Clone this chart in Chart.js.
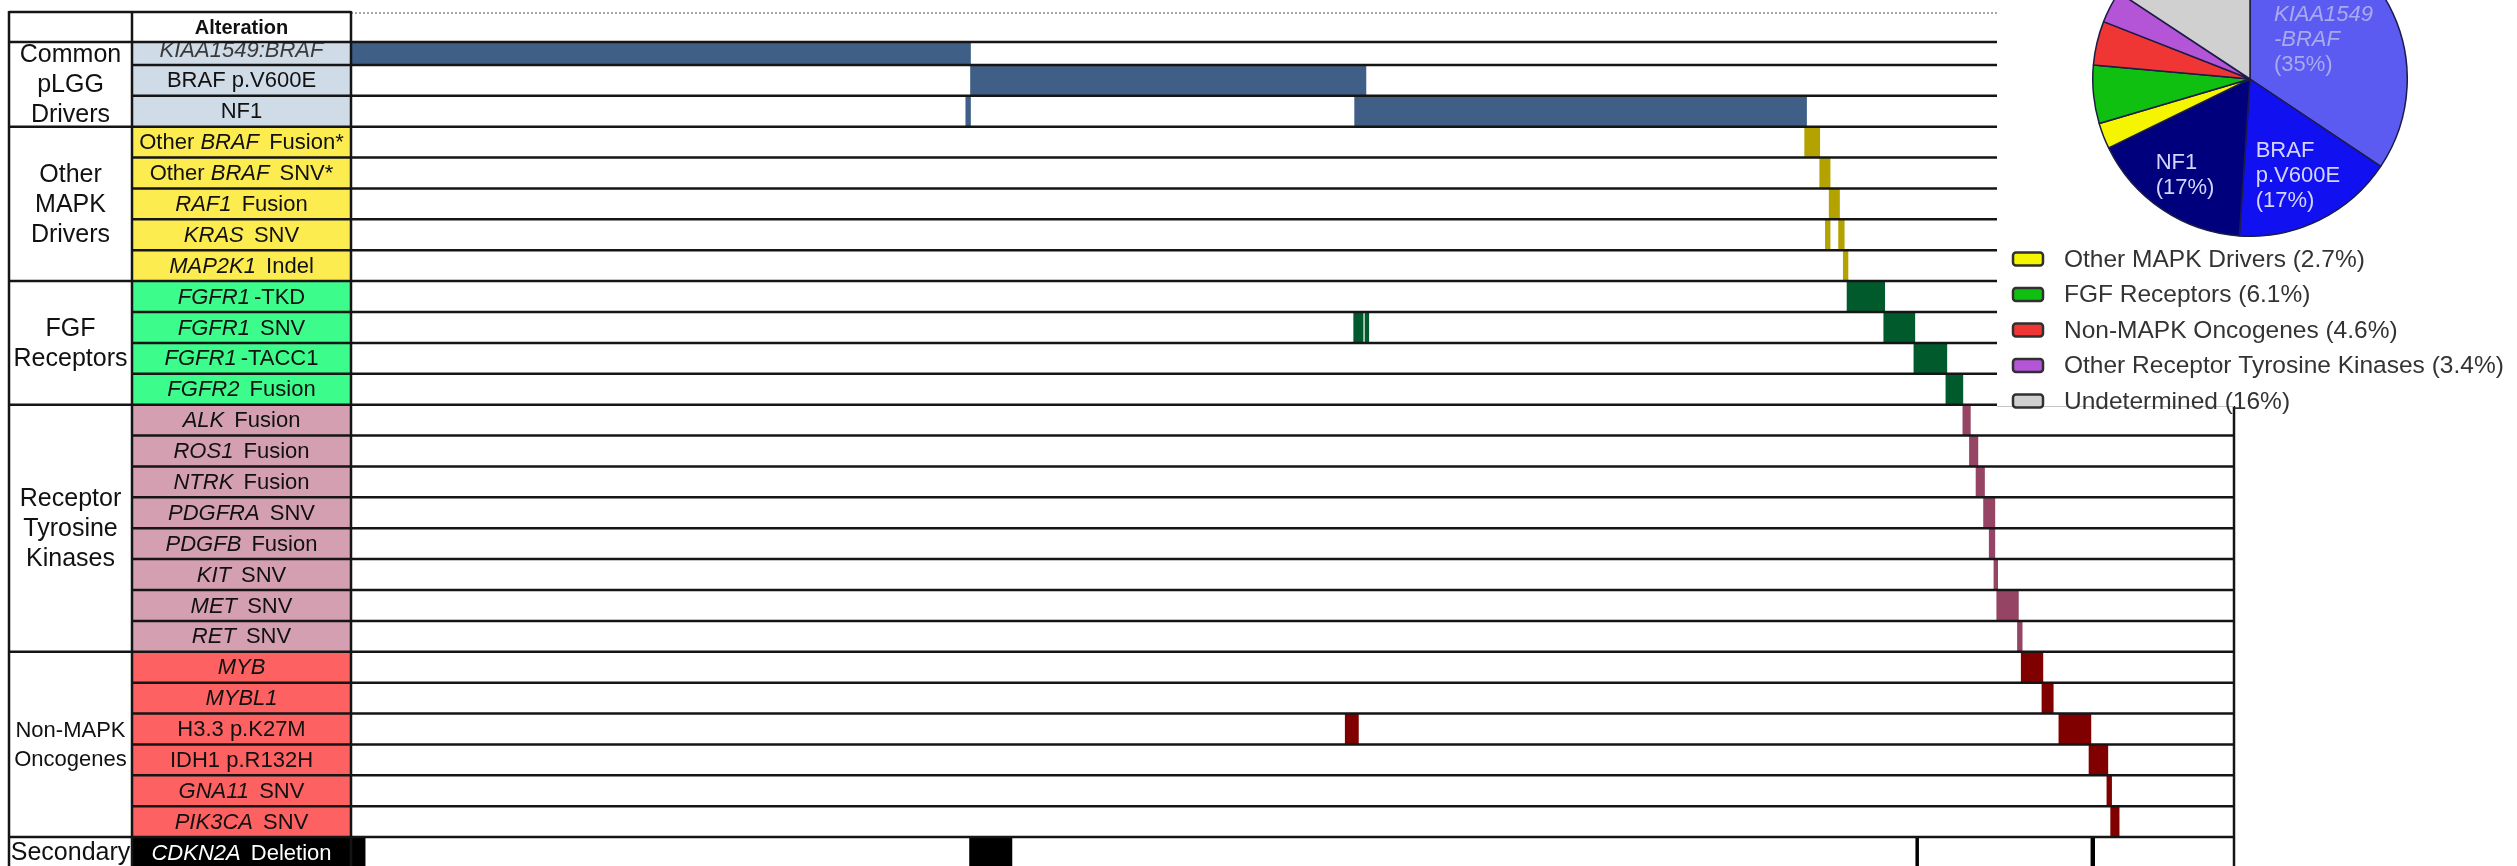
<!DOCTYPE html>
<html>
<head>
<meta charset="utf-8">
<script src="https://cdn.jsdelivr.net/npm/chart.js@4.4.1/dist/chart.umd.min.js"></script>
<style>
  html, body { margin: 0; padding: 0; background: #fff; overflow: hidden; width: 2517px; height: 866px; }
  #main { position: absolute; left: 0; top: 0; }
  #pie { position: absolute; left: 2092px; top: -79px; }
</style>
</head>
<body>
<canvas id="main" width="2517" height="900"></canvas>
<canvas id="pie" width="316" height="316"></canvas>
<script>
// rows of the oncoplot, top to bottom
const alterations = [
  'KIAA1549:BRAF', 'BRAF p.V600E', 'NF1',
  'Other BRAF Fusion*', 'Other BRAF SNV*', 'RAF1 Fusion', 'KRAS SNV', 'MAP2K1 Indel',
  'FGFR1-TKD', 'FGFR1 SNV', 'FGFR1-TACC1', 'FGFR2 Fusion',
  'ALK Fusion', 'ROS1 Fusion', 'NTRK Fusion', 'PDGFRA SNV', 'PDGFB Fusion', 'KIT SNV', 'MET SNV', 'RET SNV',
  'MYB', 'MYBL1', 'H3.3 p.K27M', 'IDH1 p.R132H', 'GNA11 SNV', 'PIK3CA SNV',
  'CDKN2A Deletion'
];
// part of each label set in italics (gene names)
const italicPart = [
  'KIAA1549:BRAF', '', '',
  'BRAF', 'BRAF', 'RAF1', 'KRAS', 'MAP2K1',
  'FGFR1', 'FGFR1', 'FGFR1', 'FGFR2',
  'ALK', 'ROS1', 'NTRK', 'PDGFRA', 'PDGFB', 'KIT', 'MET', 'RET',
  'MYB', 'MYBL1', '', '', 'GNA11', 'PIK3CA',
  'CDKN2A'
];
const rowGroups = [0,0,0, 1,1,1,1,1, 2,2,2,2, 3,3,3,3,3,3,3,3, 4,4,4,4,4,4, 5];
const groupLabels = [
  ['Common', 'pLGG', 'Drivers'],
  ['Other', 'MAPK', 'Drivers'],
  ['FGF', 'Receptors'],
  ['Receptor', 'Tyrosine', 'Kinases'],
  ['Non-MAPK', 'Oncogenes'],
  ['Secondary']
];

// samples (0-1000) covered by each row's main block
const mainBars = [
  [0, 329], [329, 539], [533, 773],
  [772, 780], [780, 785.5], [785, 790.5], [790, 793], [792.5, 795],
  [794.5, 814.5], [814, 830.5], [830, 847.5], [847, 856],
  [856, 860], [859.5, 864], [863, 867.5], [867, 873], [870, 873], [872.5, 874.5], [874, 885.5], [885, 887.5],
  [887, 898.5], [898, 904], [907, 924], [923, 933], [932.5, 935], [934.5, 939],
  [0, 7.5]
];
// extra blocks (co-occurring alterations)
const extraRows  = ['NF1', 'KRAS SNV', 'FGFR1 SNV', 'FGFR1 SNV', 'H3.3 p.K27M', 'CDKN2A Deletion', 'CDKN2A Deletion', 'CDKN2A Deletion'];
const extraStart = [326.5, 783, 532.5, 538.5, 528, 328.5, 831, 924];
const extraEnd   = [329, 785.5, 537.5, 540.5, 535, 351, 832.5, 926];

// pie of the whole cohort
const pieLabels = ['KIAA1549-BRAF', 'BRAF p.V600E', 'NF1', 'Other MAPK Drivers', 'FGF Receptors',
  'Non-MAPK Oncogenes', 'Other Receptor Tyrosine Kinases', 'Undetermined'];
const pieValues = [35, 17, 17, 2.7, 6.1, 4.6, 3.4, 16];

const barColors  = ['#405f86', '#b4a200', '#005a2b', '#954463', '#800000', '#000000'];
const cellColors = ['#d0dbe8', '#fcec50', '#3cfc8c', '#d4a0b1', '#fe6161', '#000000'];
const pieColors  = ['#5b5bf2', '#1010f0', '#00007c', '#f5f500', '#10c010', '#f03535', '#b455d8', '#d0d0d0'];

const FONT = '"Liberation Sans", Arial, sans-serif';

function hline(ctx, x1, x2, yy, w, c) {
  ctx.beginPath(); ctx.lineWidth = w; ctx.strokeStyle = c;
  ctx.moveTo(x1, yy); ctx.lineTo(x2, yy); ctx.stroke();
}
function vline(ctx, xx, y1, y2, w, c) {
  ctx.beginPath(); ctx.lineWidth = w; ctx.strokeStyle = c;
  ctx.moveTo(xx, y1); ctx.lineTo(xx, y2); ctx.stroke();
}

// draw a label where one word is italic, centred on cx
function drawMixed(ctx, text, italic, cx, cy, size, color) {
  let parts = [[text, false]];
  if (italic) {
    const i = text.indexOf(italic);
    parts = [[text.slice(0, i), false], [italic, true], [text.slice(i + italic.length), false]].filter(p => p[0]);
  }
  const fontFor = it => (it ? 'italic ' : '') + size + 'px ' + FONT;
  let total = 0;
  parts.forEach((p, k) => {
    ctx.font = fontFor(p[1]);
    p.w = ctx.measureText(p[0]).width + (p[1] && k < parts.length - 1 ? 4 : 0);
    total += p.w;
  });
  let xx = cx - total / 2;
  ctx.textAlign = 'left'; ctx.textBaseline = 'middle'; ctx.fillStyle = color;
  parts.forEach(p => { ctx.font = fontFor(p[1]); ctx.fillText(p[0], xx, cy); xx += p.w; });
}

const tablePlugin = {
  id: 'table',
  beforeDraw(chart) {
    const ctx = chart.ctx;
    ctx.save(); ctx.fillStyle = '#fff'; ctx.fillRect(0, 0, chart.width, chart.height); ctx.restore();
  },
  afterDatasetsDraw(chart) {
    const { ctx, chartArea: area, scales: { y } } = chart;
    const edge = k => y.getPixelForValue(k - 0.5);
    const colA = 9, colB = 132, colC = area.left;
    const headTop = 12, headBottom = 42, boxX = 1997, boxBottom = 406;
    ctx.save();

    // label cells
    alterations.forEach((lab, i) => {
      const top = edge(i), bottom = edge(i + 1), g = rowGroups[i];
      ctx.fillStyle = cellColors[g];
      ctx.fillRect(colB, top, colC - colB, bottom - top);
      const col = g === 5 ? '#fff' : (i === 0 ? '#3a3a3a' : '#111');
      drawMixed(ctx, lab, italicPart[i], (colB + colC) / 2, (top + bottom) / 2 + 1, 22, col);
    });

    // row separators
    for (let k = 1; k <= alterations.length; k++) {
      hline(ctx, colB, area.right, edge(k), 2.5, '#151515');
    }

    // group column
    let start = 0;
    groupLabels.forEach((lines, g) => {
      let end = start;
      while (end < rowGroups.length && rowGroups[end] === g) end++;
      const top = Math.max(edge(start), headBottom), bottom = Math.min(edge(end), 866);
      const size = g === 4 ? 22 : 25, lh = g === 4 ? 29 : 30;
      const cy = g === 5 ? (edge(start) + edge(end)) / 2 : (top + bottom) / 2;
      ctx.font = size + 'px ' + FONT; ctx.fillStyle = '#111';
      ctx.textAlign = 'center'; ctx.textBaseline = 'middle';
      lines.forEach((t, j) => ctx.fillText(t, (colA + colB) / 2, cy + (j - (lines.length - 1) / 2) * lh + 1));
      hline(ctx, colA, colB, edge(end), 2.5, '#151515');
      start = end;
    });

    // header strip
    ctx.fillStyle = '#fff';
    ctx.fillRect(0, 0, boxX, headBottom);
    hline(ctx, colA, colC, headTop, 2.5, '#151515');
    ctx.setLineDash([2, 2]);
    hline(ctx, colC, boxX, headTop + 1, 1.5, '#8a8a8a');
    ctx.setLineDash([]);
    hline(ctx, colA, boxX, headBottom, 2.5, '#151515');
    ctx.font = 'bold 20px ' + FONT; ctx.fillStyle = '#111';
    ctx.textAlign = 'center'; ctx.textBaseline = 'middle';
    ctx.fillText('Alteration', (colB + colC) / 2, (headTop + headBottom) / 2 + 1);

    // vertical rules
    vline(ctx, colA, headTop - 1, chart.height, 2.5, '#151515');
    vline(ctx, colB, headTop - 1, chart.height, 2.5, '#151515');
    vline(ctx, colC, headTop - 1, chart.height, 2.5, '#151515');
    vline(ctx, area.right, boxBottom, chart.height, 2.5, '#151515');

    // inset box with pie legend
    ctx.fillStyle = '#fff';
    ctx.fillRect(boxX, 0, chart.width - boxX, boxBottom);
    hline(ctx, boxX, area.right, boxBottom + 0.5, 1, '#c4c4c4');
    for (let k = 3; k < pieLabels.length; k++) {
      const ly = 259 + (k - 3) * 35.5;
      ctx.beginPath();
      ctx.roundRect(2013, ly - 6.5, 30, 13, 3);
      ctx.fillStyle = pieColors[k]; ctx.fill();
      ctx.lineWidth = 2.5; ctx.strokeStyle = '#303030'; ctx.stroke();
      ctx.font = '24.5px ' + FONT; ctx.fillStyle = '#333';
      ctx.textAlign = 'left'; ctx.textBaseline = 'middle';
      ctx.fillText(pieLabels[k] + ' (' + pieValues[k] + '%)', 2064, ly + 1);
    }
    ctx.restore();
  }
};

new Chart(document.getElementById('main'), {
  type: 'bar',
  data: {
    labels: alterations,
    datasets: [
      {
        label: 'main',
        data: mainBars,
        backgroundColor: alterations.map((_, i) => barColors[rowGroups[i]])
      },
      {
        label: 'extra',
        data: extraRows.map((r, i) => ({ y: r, x: [extraStart[i], extraEnd[i]] })),
        backgroundColor: extraRows.map(r => barColors[rowGroups[alterations.indexOf(r)]])
      }
    ]
  },
  options: {
    indexAxis: 'y',
    responsive: false,
    animation: false,
    devicePixelRatio: 1,
    events: [],
    layout: { padding: { left: 351, right: 283, top: 34, bottom: 32 } },
    datasets: { bar: { grouped: false, categoryPercentage: 1, barPercentage: 1, borderWidth: 0 } },
    scales: {
      x: { type: 'linear', min: 0, max: 1000, display: false },
      y: { display: false }
    },
    plugins: { legend: { display: false }, tooltip: { enabled: false } }
  },
  plugins: [tablePlugin]
});

// text inside the three big slices
const sliceText = {
  0: { lines: ['KIAA1549', '-BRAF', '(35%)'], italic: [true, true, false], color: '#a9a9ee', r: 0.53 },
  1: { lines: ['BRAF', 'p.V600E', '(17%)'], italic: [false, false, false], color: '#d4d4ff', r: 0.69 },
  2: { lines: ['NF1', '(17%)'], italic: [false, false], color: '#d4d4ff', r: 0.74 }
};

const pieTextPlugin = {
  id: 'pieText',
  afterDatasetsDraw(chart) {
    const ctx = chart.ctx;
    const arcs = chart.getDatasetMeta(0).data;
    ctx.save();
    Object.keys(sliceText).forEach(k => {
      const s = sliceText[k], arc = arcs[k];
      const mid = (arc.startAngle + arc.endAngle) / 2;
      const cx = arc.x + Math.cos(mid) * arc.outerRadius * s.r;
      const cy = arc.y + Math.sin(mid) * arc.outerRadius * s.r;
      let w = 0;
      s.lines.forEach((t, j) => {
        ctx.font = (s.italic[j] ? 'italic ' : '') + '22px ' + FONT;
        w = Math.max(w, ctx.measureText(t).width);
      });
      ctx.fillStyle = s.color; ctx.textAlign = 'left'; ctx.textBaseline = 'middle';
      s.lines.forEach((t, j) => {
        ctx.font = (s.italic[j] ? 'italic ' : '') + '22px ' + FONT;
        ctx.fillText(t, cx - w / 2, cy + (j - (s.lines.length - 1) / 2) * 25);
      });
    });
    ctx.restore();
  }
};

new Chart(document.getElementById('pie'), {
  type: 'pie',
  data: {
    labels: pieLabels,
    datasets: [{ data: pieValues, backgroundColor: pieColors, borderColor: '#1c1c48', borderWidth: 1.5 }]
  },
  options: {
    responsive: false,
    animation: false,
    devicePixelRatio: 1,
    events: [],
    layout: { padding: 0 },
    plugins: { legend: { display: false }, tooltip: { enabled: false } }
  },
  plugins: [pieTextPlugin]
});
</script>
</body>
</html>
